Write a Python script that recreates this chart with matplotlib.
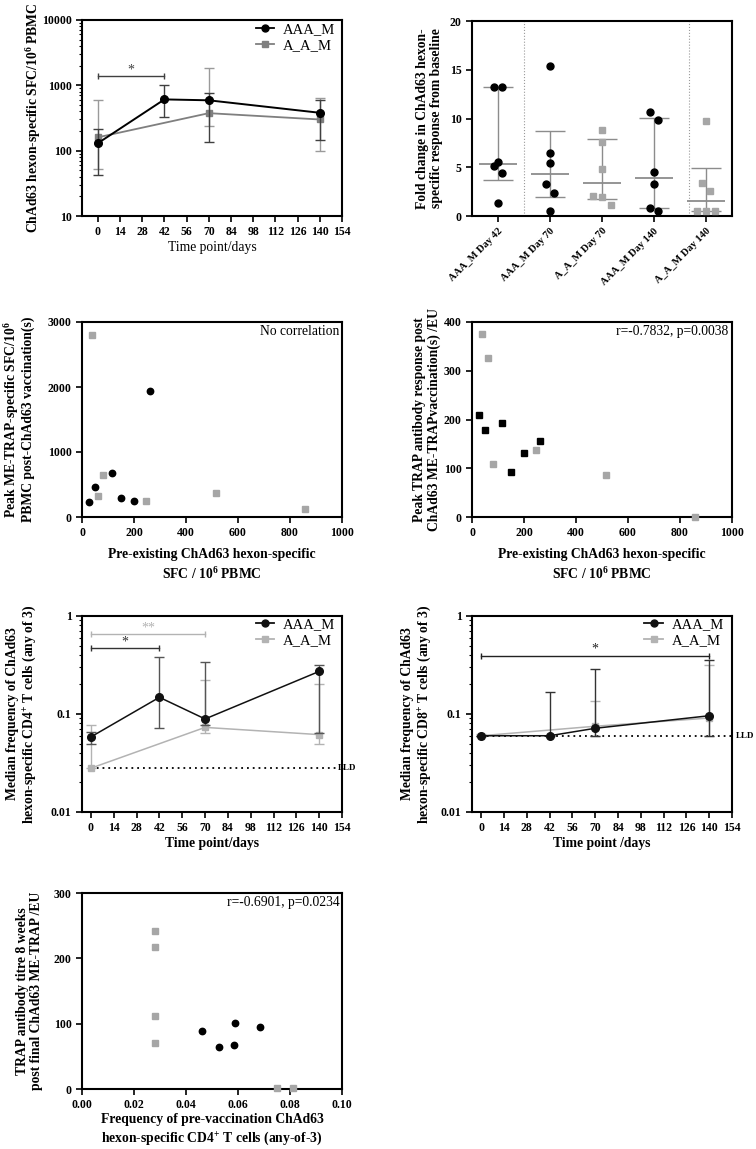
import numpy as np
import matplotlib
matplotlib.use('Agg')
import matplotlib.pyplot as plt
from matplotlib.ticker import LogLocator, NullFormatter
import matplotlib.transforms as mtransforms

plt.rcParams['font.family'] = ['Liberation Serif', 'DejaVu Serif']
plt.rcParams['mathtext.fontset'] = 'custom'
plt.rcParams['mathtext.rm'] = 'Liberation Serif'
plt.rcParams['mathtext.bf'] = 'Liberation Serif:bold'
plt.rcParams['mathtext.it'] = 'Liberation Serif:italic'

# ---------------- data ----------------
# Panel A: ChAd63 hexon-specific SFC over time (median, IQR)
sfc_aaa_days = [0, 42, 70, 140]
sfc_aaa_med = [130, 609, 590, 380]
sfc_aaa_lo = [43, 325, 134, 146]
sfc_aaa_hi = [216, 1000, 760, 590]
sfc_aam_days = [0, 70, 140]
sfc_aam_med = [160, 375, 300]
sfc_aam_lo = [53, 240, 100]
sfc_aam_hi = [590, 1870, 645]

# Panel B: fold change from baseline
fold_categories = ['AAA_M Day 42', 'AAA_M Day 70', 'A_A_M Day 70', 'AAA_M Day 140', 'A_A_M Day 140']
fold_groups = ['AAA_M', 'AAA_M', 'A_A_M', 'AAA_M', 'A_A_M']
fold_aaa_d42 = [13.24, 13.24, 5.56, 5.15, 4.44, 1.30]
fold_aaa_d70 = [15.36, 6.48, 5.46, 3.24, 2.39, 0.55]
fold_aam_d70 = [8.84, 7.61, 4.78, 2.01, 1.95, 1.13]
fold_aaa_d140 = [10.65, 9.86, 4.54, 3.24, 0.55, 0.85]
fold_aam_d140 = [9.73, 3.38, 2.59, 0.55, 0.55, 0.55]
fold_values = [fold_aaa_d42, fold_aaa_d70, fold_aam_d70, fold_aaa_d140, fold_aam_d140]

# Panels C & D: pre-existing hexon SFC vs responses
pre_aaa = [28, 50, 117, 151, 200, 262]
pre_aam = [37, 60, 80, 245, 515, 856]
peak_sfc_aaa = [226, 456, 682, 292, 246, 1944]
peak_sfc_aam = [2805, 323, 646, 251, 364, 118]
peak_ab_aaa = [210, 179, 192, 93, 132, 156]
peak_ab_aam = [375, 326, 108, 137, 86, 1]

# Panel E: CD4+ frequency over time
cd4_aaa_days = [0, 42, 70, 140]
cd4_aaa_med = [0.0584, 0.148, 0.089, 0.272]
cd4_aaa_lo = [0.050, 0.072, 0.078, 0.064]
cd4_aaa_hi = [0.065, 0.386, 0.34, 0.318]
cd4_aam_days = [0, 70, 140]
cd4_aam_med = [0.028, 0.073, 0.0616]
cd4_aam_lo = [0.028, 0.064, 0.050]
cd4_aam_hi = [0.077, 0.22, 0.20]
cd4_lld = 0.028

# Panel F: CD8+ frequency over time
cd8_aaa_days = [0, 42, 70, 140]
cd8_aaa_med = [0.060, 0.060, 0.0715, 0.096]
cd8_aaa_lo = [0.060, 0.060, 0.060, 0.060]
cd8_aaa_hi = [0.060, 0.167, 0.291, 0.357]
cd8_aam_days = [0, 70, 140]
cd8_aam_med = [0.060, 0.075, 0.091]
cd8_aam_lo = [0.060, 0.060, 0.060]
cd8_aam_hi = [0.062, 0.135, 0.318]
cd8_lld = 0.060

# Panel G: pre-vaccination CD4 frequency vs TRAP antibody titre
cd4pre_aaa = [0.046, 0.0526, 0.0585, 0.059, 0.0683]
titre_aaa = [88.6, 64.5, 66.6, 100.4, 95.2]
cd4pre_aam = [0.028, 0.028, 0.028, 0.028, 0.075, 0.081]
titre_aam = [242, 217, 111, 71, 1, 1]

time_ticks = list(range(0, 155, 14))

# ---------------- style ----------------
BLACK = '#000000'
GRAY = '#a6a6a6'
DGRAY = '#7f7f7f'
TICK_FS = 8.5
LAB_FS = 9.8

W, H = 756, 1149
fig = plt.figure(figsize=(W / 100, H / 100), dpi=100)


def add_ax(l, t, r, b):
    return fig.add_axes([l / W, 1 - b / H, (r - l) / W, (b - t) / H])


def base_style(ax):
    for s in ax.spines.values():
        s.set_linewidth(1.5)
    ax.tick_params(which='major', direction='out', width=1.2, length=4, labelsize=TICK_FS)
    ax.tick_params(which='minor', direction='out', width=0.8, length=2.2)


def log_y(ax, lo, hi, labels):
    ax.set_yscale('log')
    ax.set_ylim(lo, hi)
    ticks = [10.0 ** k for k in range(int(round(np.log10(lo))), int(round(np.log10(hi))) + 1)]
    ax.set_yticks(ticks, labels=labels, fontweight='bold')
    ax.yaxis.set_minor_locator(LogLocator(base=10, subs=np.arange(2, 10)))
    ax.yaxis.set_minor_formatter(NullFormatter())


def err(ax, x, med, lo, hi, color, ecolor, marker, ms, lw, capsize=3.5, elw=1.0, z=3, mfc=None):
    med = np.asarray(med); lo = np.asarray(lo); hi = np.asarray(hi)
    ax.errorbar(x, med, yerr=[med - lo, hi - med], color=color, ecolor=ecolor, marker=marker,
                ms=ms, lw=lw, capsize=capsize, elinewidth=elw, capthick=elw, zorder=z,
                mfc=mfc if mfc else color, mec=mfc if mfc else color)


def bracket(ax, x0, x1, y, text, color):
    ax.plot([x0, x1], [y, y], color=color, lw=1.0, marker='|', ms=5, mew=1.0, zorder=4)
    ax.text((x0 + x1) / 2, y * 1.0, text, ha='center', va='bottom', fontsize=10, color=color)


def time_x(ax, left, label, weight):
    ax.set_xlim(left, 154)
    ax.set_xticks(time_ticks, labels=[str(t) for t in time_ticks], fontweight='bold')
    ax.set_xlabel(label, fontsize=LAB_FS, fontweight=weight, labelpad=2)


def legend(ax, anchor, aaa_color, aam_color):
    h1, = ax.plot([], [], color=aaa_color, marker='o', ms=5, lw=1.3)
    h2, = ax.plot([], [], color=aam_color, marker='s', ms=4.5, lw=1.3)
    ax.legend([h1, h2], ['AAA_M', 'A_A_M'], loc='upper right', bbox_to_anchor=anchor,
              frameon=False, fontsize=10.5, handlelength=1.3, handletextpad=0.6,
              borderpad=0, borderaxespad=0, labelspacing=0.2)


# ---------------- Panel A ----------------
ax1 = add_ax(82, 20, 342, 216)
base_style(ax1)
log_y(ax1, 10, 10000, ['10', '100', '1000', '10000'])
time_x(ax1, -10, 'Time point/days', 'normal')
err(ax1, sfc_aam_days, sfc_aam_med, sfc_aam_lo, sfc_aam_hi, DGRAY, '#9a9a9a', 's', 5, 1.3)
err(ax1, sfc_aaa_days, sfc_aaa_med, sfc_aaa_lo, sfc_aaa_hi, BLACK, '#404040', 'o', 5.5, 1.4, z=4)
bracket(ax1, sfc_aaa_days[0], sfc_aaa_days[1], 1375, '*', '#404040')
legend(ax1, (0.975, 0.985), BLACK, DGRAY)
ax1.set_ylabel(r'ChAd63 hexon-specific SFC/10$^{\mathbf{6}}$ PBMC', fontsize=LAB_FS, fontweight='bold')
ax1.yaxis.set_label_coords(-0.15, 0.5)

# ---------------- Panel B ----------------
ax2 = add_ax(472, 21, 732, 216)
base_style(ax2)
ax2.set_xlim(-0.5, 4.5)
ax2.set_ylim(0, 20)
ax2.set_yticks([0, 5, 10, 15, 20], labels=['0', '5', '10', '15', '20'], fontweight='bold')
ax2.set_xticks(range(len(fold_categories)), labels=fold_categories, rotation=45, ha='right',
               rotation_mode='anchor', fontweight='bold', fontsize=7.5)
ax2.axvline(0.5, color='#9a9a9a', ls=':', lw=0.8)
ax2.axvline(3.67, color='#9a9a9a', ls=':', lw=0.8)

yscale_px = 195.0 / 20.0
spacing = 0.168
for i, (vals, grp) in enumerate(zip(fold_values, fold_groups)):
    vals = np.asarray(vals, dtype=float)
    # swarm: group near-equal values into centred rows
    order = list(np.argsort(vals))
    rows = []
    for j in order:
        if rows and (vals[j] - vals[rows[-1][0]]) * yscale_px < 9.0:
            rows[-1].append(j)
        else:
            rows.append([j])
    xs = np.zeros(len(vals))
    for row in rows:
        row = sorted(row, key=lambda k: -vals[k])
        n = len(row)
        for k, j in enumerate(row):
            xs[j] = (k - (n - 1) / 2) * spacing
    q1, q3 = np.percentile(vals, [25, 75], method='weibull')
    med = np.median(vals)
    ax2.errorbar([i], [med], yerr=[[med - q1], [q3 - med]], fmt='none', ecolor='#8c8c8c',
                 elinewidth=1.0, capsize=11, capthick=1.0, zorder=2)
    ax2.hlines(med, i - 0.37, i + 0.37, color='#8c8c8c', lw=1.3, zorder=2)
    if grp == 'AAA_M':
        ax2.plot(i + xs, vals, 'o', color=BLACK, ms=5, zorder=3, clip_on=False)
    else:
        ax2.plot(i + xs, vals, 's', color=GRAY, ms=4.6, zorder=3, clip_on=False)
ax2.set_ylabel('Fold change in ChAd63 hexon-\nspecific response from baseline', fontsize=LAB_FS,
               fontweight='bold', linespacing=1.1)
ax2.yaxis.set_label_coords(-0.11, 0.5)

# ---------------- Panel C ----------------
ax3 = add_ax(82, 322, 342, 517)
base_style(ax3)
ax3.set_xlim(0, 1000)
ax3.set_ylim(0, 3000)
ax3.set_xticks(range(0, 1001, 200), labels=[str(v) for v in range(0, 1001, 200)], fontweight='bold')
ax3.set_yticks(range(0, 3001, 1000), labels=[str(v) for v in range(0, 3001, 1000)], fontweight='bold')
ax3.plot(pre_aaa, peak_sfc_aaa, 'o', color=BLACK, ms=4.6, clip_on=False, zorder=3)
ax3.plot(pre_aam, peak_sfc_aam, 's', color=GRAY, ms=4.6, clip_on=False, zorder=3)
ax3.text(0.99, 0.985, 'No correlation', transform=ax3.transAxes, ha='right', va='top', fontsize=9.8)
ax3.set_ylabel(r'Peak ME-TRAP-specific SFC/10$^{\mathbf{6}}$' + '\nPBMC post-ChAd63 vaccination(s)',
               fontsize=LAB_FS, fontweight='bold', linespacing=1.1)
ax3.yaxis.set_label_coords(-0.18, 0.5)
ax3.set_xlabel('Pre-existing ChAd63 hexon-specific\n' + r'SFC / 10$^{\mathbf{6}}$ PBMC', fontsize=LAB_FS,
               fontweight='bold', linespacing=1.45, labelpad=6)

# ---------------- Panel D ----------------
ax4 = add_ax(472, 322, 732, 517)
base_style(ax4)
ax4.set_xlim(0, 1000)
ax4.set_ylim(0, 400)
ax4.set_xticks(range(0, 1001, 200), labels=[str(v) for v in range(0, 1001, 200)], fontweight='bold')
ax4.set_yticks(range(0, 401, 100), labels=[str(v) for v in range(0, 401, 100)], fontweight='bold')
ax4.plot(pre_aaa, peak_ab_aaa, 's', color=BLACK, ms=4.6, clip_on=False, zorder=3)
ax4.plot(pre_aam, peak_ab_aam, 's', color=GRAY, ms=4.6, clip_on=False, zorder=3)
ax4.text(0.985, 0.985, 'r=-0.7832, p=0.0038', transform=ax4.transAxes, ha='right', va='top', fontsize=9.8)
ax4.set_ylabel('Peak TRAP antibody response post\nChAd63 ME-TRAPvaccination(s) /EU',
               fontsize=LAB_FS, fontweight='bold', linespacing=1.1)
ax4.yaxis.set_label_coords(-0.12, 0.5)
ax4.set_xlabel('Pre-existing ChAd63 hexon-specific\n' + r'SFC / 10$^{\mathbf{6}}$ PBMC', fontsize=LAB_FS,
               fontweight='bold', linespacing=1.45, labelpad=6)

# ---------------- Panel E ----------------
ax5 = add_ax(82, 616, 342, 812)
base_style(ax5)
log_y(ax5, 0.01, 1, ['0.01', '0.1', '1'])
time_x(ax5, -5.5, 'Time point/days', 'bold')
ax5.hlines(cd4_lld, 0, 151, colors=BLACK, linestyles=(0, (1, 2.2)), lw=1.3, zorder=1)
ax5.text(0.985, cd4_lld, 'LLD', transform=mtransforms.blended_transform_factory(ax5.transAxes, ax5.transData),
         ha='left', va='center', fontsize=6.5, fontweight='bold')
err(ax5, cd4_aam_days, cd4_aam_med, cd4_aam_lo, cd4_aam_hi, '#b3b3b3', '#b3b3b3', 's', 4.8, 1.1)
err(ax5, cd4_aaa_days, cd4_aaa_med, cd4_aaa_lo, cd4_aaa_hi, '#111111', '#555555', 'o', 5.5, 1.1, z=4)
bracket(ax5, cd4_aam_days[0], cd4_aam_days[1], 0.65, '**', '#b3b3b3')
bracket(ax5, cd4_aaa_days[0], cd4_aaa_days[1], 0.47, '*', '#333333')
legend(ax5, (0.975, 0.99), '#111111', '#b3b3b3')
ax5.set_ylabel('Median frequency of ChAd63\n' + r'hexon-specific CD4$^{\mathbf{+}}$ T cells (any of 3)',
               fontsize=LAB_FS, fontweight='bold', linespacing=1.1)
ax5.yaxis.set_label_coords(-0.17, 0.5)

# ---------------- Panel F ----------------
ax6 = add_ax(472, 616, 732, 812)
base_style(ax6)
log_y(ax6, 0.01, 1, ['0.01', '0.1', '1'])
time_x(ax6, -5.7, 'Time point /days', 'bold')
ax6.hlines(cd8_lld, 0, 154, colors=BLACK, linestyles=(0, (1, 2.2)), lw=1.3, zorder=1)
ax6.text(1.015, cd8_lld, 'LLD', transform=mtransforms.blended_transform_factory(ax6.transAxes, ax6.transData),
         ha='left', va='center', fontsize=6.5, fontweight='bold')
err(ax6, cd8_aam_days, cd8_aam_med, cd8_aam_lo, cd8_aam_hi, '#b3b3b3', '#b3b3b3', 's', 4.8, 1.1)
err(ax6, cd8_aaa_days, cd8_aaa_med, cd8_aaa_lo, cd8_aaa_hi, '#111111', '#333333', 'o', 5.5, 1.1, z=4)
bracket(ax6, cd8_aaa_days[0], cd8_aaa_days[-1], 0.395, '*', '#222222')
legend(ax6, (0.97, 0.99), '#111111', '#b3b3b3')
ax6.set_ylabel('Median frequency of ChAd63\n' + r'hexon-specific CD8$^{\mathbf{+}}$ T cells (any of 3)',
               fontsize=LAB_FS, fontweight='bold', linespacing=1.1)
ax6.yaxis.set_label_coords(-0.15, 0.5)

# ---------------- Panel G ----------------
ax7 = add_ax(82, 893, 342, 1089)
base_style(ax7)
ax7.set_xlim(0, 0.1)
ax7.set_ylim(0, 300)
xt = [0, 0.02, 0.04, 0.06, 0.08, 0.10]
ax7.set_xticks(xt, labels=['%.2f' % v for v in xt], fontweight='bold')
ax7.set_yticks([0, 100, 200, 300], labels=['0', '100', '200', '300'], fontweight='bold')
ax7.plot(cd4pre_aaa, titre_aaa, 'o', color=BLACK, ms=4.6, clip_on=False, zorder=3)
ax7.plot(cd4pre_aam, titre_aam, 's', color=GRAY, ms=4.6, clip_on=False, zorder=3)
ax7.text(0.99, 0.985, 'r=-0.6901, p=0.0234', transform=ax7.transAxes, ha='right', va='top', fontsize=9.8)
ax7.set_ylabel('TRAP antibody titre 8 weeks\npost final ChAd63 ME-TRAP /EU',
               fontsize=LAB_FS, fontweight='bold', linespacing=1.1)
ax7.yaxis.set_label_coords(-0.15, 0.5)
ax7.set_xlabel('Frequency of pre-vaccination ChAd63\n' + r'hexon-specific CD4$^{\mathbf{+}}$ T cells (any-of-3)',
               fontsize=LAB_FS, fontweight='bold', linespacing=1.3, labelpad=1)

fig.savefig('out.png', dpi=100, facecolor='white')
